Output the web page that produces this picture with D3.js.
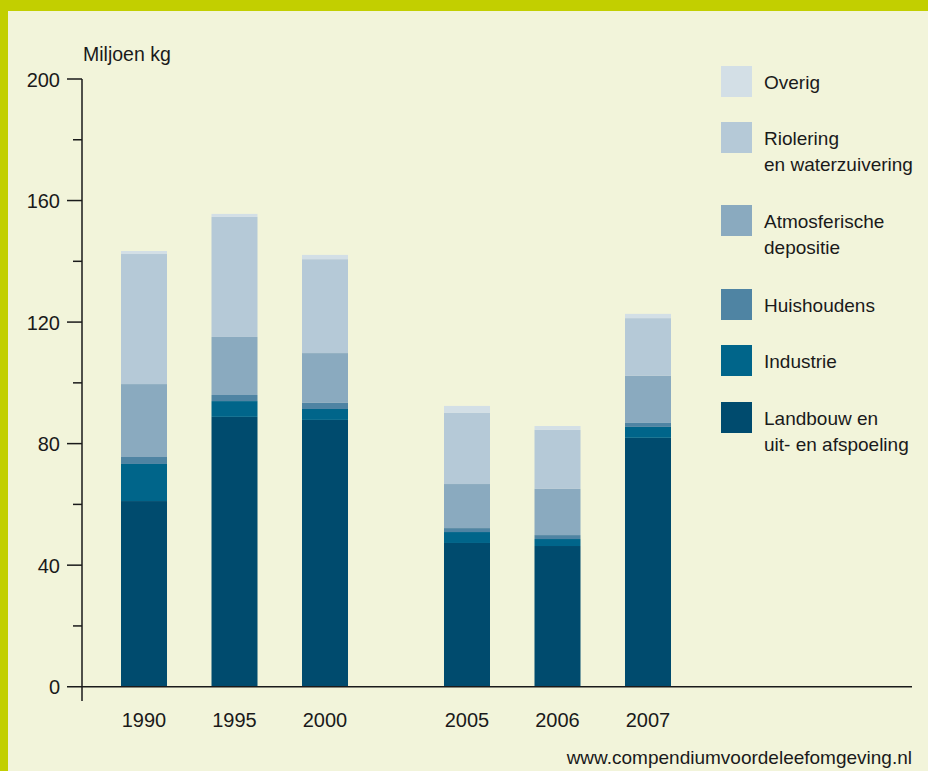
<!DOCTYPE html>
<html>
<head>
<meta charset="utf-8">
<script src="https://cdn.jsdelivr.net/npm/d3@7"></script>
<style>
  body { margin: 0; background: #c2cf00; }
  svg { display: block; }
  text { font-family: "Liberation Sans", Arial, sans-serif; fill: #1a1a1a; }
</style>
</head>
<body>
<svg width="928" height="771"></svg>
<script>
const years = ["1990", "1995", "2000", "2005", "2006", "2007"];
const groups = { "1990": "A", "1995": "A", "2000": "A", "2005": "B", "2006": "B", "2007": "B" };

// Miljoen kg per bron
const landbouw    = [61.1, 88.8, 87.8, 47.3, 46.3, 81.9];
const industrie   = [12.2, 5.2, 3.6, 3.6, 2.3, 3.6];
const huishoudens = [2.3, 2.0, 2.0, 1.3, 1.3, 1.3];
const atmosfeer   = [24.0, 19.1, 16.4, 14.5, 15.2, 15.5];
const riolering   = [42.8, 39.5, 30.9, 23.4, 19.4, 19.0];
const overig      = [1.0, 1.0, 1.4, 2.3, 1.3, 1.4];

const yTicks = [0, 40, 80, 120, 160, 200];
const yMinor = [20, 60, 100, 140, 180];

const series = [
  { key: "landbouw", label: ["Landbouw en", "uit- en afspoeling"], values: landbouw, color: "#004b6e" },
  { key: "industrie", label: ["Industrie"], values: industrie, color: "#00658a" },
  { key: "huishoudens", label: ["Huishoudens"], values: huishoudens, color: "#4f84a3" },
  { key: "atmosfeer", label: ["Atmosferische", "depositie"], values: atmosfeer, color: "#8aaabf" },
  { key: "riolering", label: ["Riolering", "en waterzuivering"], values: riolering, color: "#b5c9d7" },
  { key: "overig", label: ["Overig"], values: overig, color: "#d3dfe6" }
];

const rows = years.map((y, i) => {
  const r = { year: y };
  series.forEach(s => { r[s.key] = s.values[i]; });
  return r;
});

const svg = d3.select("svg");

// achtergrond
svg.append("rect")
  .attr("x", 8).attr("y", 11)
  .attr("width", 920).attr("height", 760)
  .attr("fill", "#f2f4da");

const y = d3.scaleLinear().domain([0, 200]).range([686.7, 79]);

const xGroup = d3.scaleBand()
  .domain(["A", "B"])
  .range([98.75, 693.25])
  .paddingInner(0.1594)
  .paddingOuter(0);

const xInner = {
  A: d3.scaleBand().domain(["1990", "1995", "2000"]).range([0, xGroup.bandwidth()]).paddingInner(0.4917).paddingOuter(0.2459),
  B: d3.scaleBand().domain(["2005", "2006", "2007"]).range([0, xGroup.bandwidth()]).paddingInner(0.4917).paddingOuter(0.2459)
};
const xPos = yr => xGroup(groups[yr]) + xInner[groups[yr]](yr);
const bw = xInner.A.bandwidth();

const stack = d3.stack().keys(series.map(s => s.key));
const stacked = stack(rows);

svg.append("g")
  .selectAll("g")
  .data(stacked)
  .join("g")
    .attr("fill", (d, i) => series[i].color)
  .selectAll("rect")
  .data(d => d)
  .join("rect")
    .attr("x", d => xPos(d.data.year))
    .attr("width", bw)
    .attr("y", d => y(d[1]))
    .attr("height", d => y(d[0]) - y(d[1]));

// assen
const axisX = 82;
svg.append("line")
  .attr("x1", axisX).attr("x2", axisX)
  .attr("y1", y(200)).attr("y2", 701)
  .attr("stroke", "#1a1a1a").attr("stroke-width", 1.5);
svg.append("line")
  .attr("x1", 67).attr("x2", 912)
  .attr("y1", y(0)).attr("y2", y(0))
  .attr("stroke", "#1a1a1a").attr("stroke-width", 1.5);

svg.append("g").selectAll("line")
  .data(yTicks.filter(d => d > 0))
  .join("line")
    .attr("x1", 67).attr("x2", axisX)
    .attr("y1", d => y(d)).attr("y2", d => y(d))
    .attr("stroke", "#1a1a1a").attr("stroke-width", 1.5);

svg.append("g").selectAll("line")
  .data(yMinor)
  .join("line")
    .attr("x1", 73).attr("x2", axisX)
    .attr("y1", d => y(d)).attr("y2", d => y(d))
    .attr("stroke", "#1a1a1a").attr("stroke-width", 1.5);

svg.append("g").selectAll("text")
  .data(yTicks)
  .join("text")
    .attr("x", 60)
    .attr("y", d => y(d) + 7.5)
    .attr("text-anchor", "end")
    .attr("font-size", 20)
    .text(d => d);

svg.append("g").selectAll("text")
  .data(years)
  .join("text")
    .attr("x", d => xPos(d) + bw / 2)
    .attr("y", 727)
    .attr("text-anchor", "middle")
    .attr("font-size", 20)
    .text(d => d);

svg.append("text")
  .attr("x", 83).attr("y", 61)
  .attr("font-size", 19.5)
  .text("Miljoen kg");

// legenda
const legendY = [66, 122, 205, 289, 345, 402];
const legend = svg.append("g");
[...series].reverse().forEach((s, i) => {
  legend.append("rect")
    .attr("x", 721).attr("y", legendY[i])
    .attr("width", 31).attr("height", 31)
    .attr("fill", s.color);
  const t = legend.append("text")
    .attr("font-size", 19);
  s.label.forEach((line, j) => {
    t.append("tspan")
      .attr("x", 764)
      .attr("y", legendY[i] + 15.5 + 7.5 + j * 26)
      .text(line);
  });
});

svg.append("text")
  .attr("x", 912).attr("y", 764)
  .attr("text-anchor", "end")
  .attr("font-size", 19)
  .text("www.compendiumvoordeleefomgeving.nl");
</script>
</body>
</html>
